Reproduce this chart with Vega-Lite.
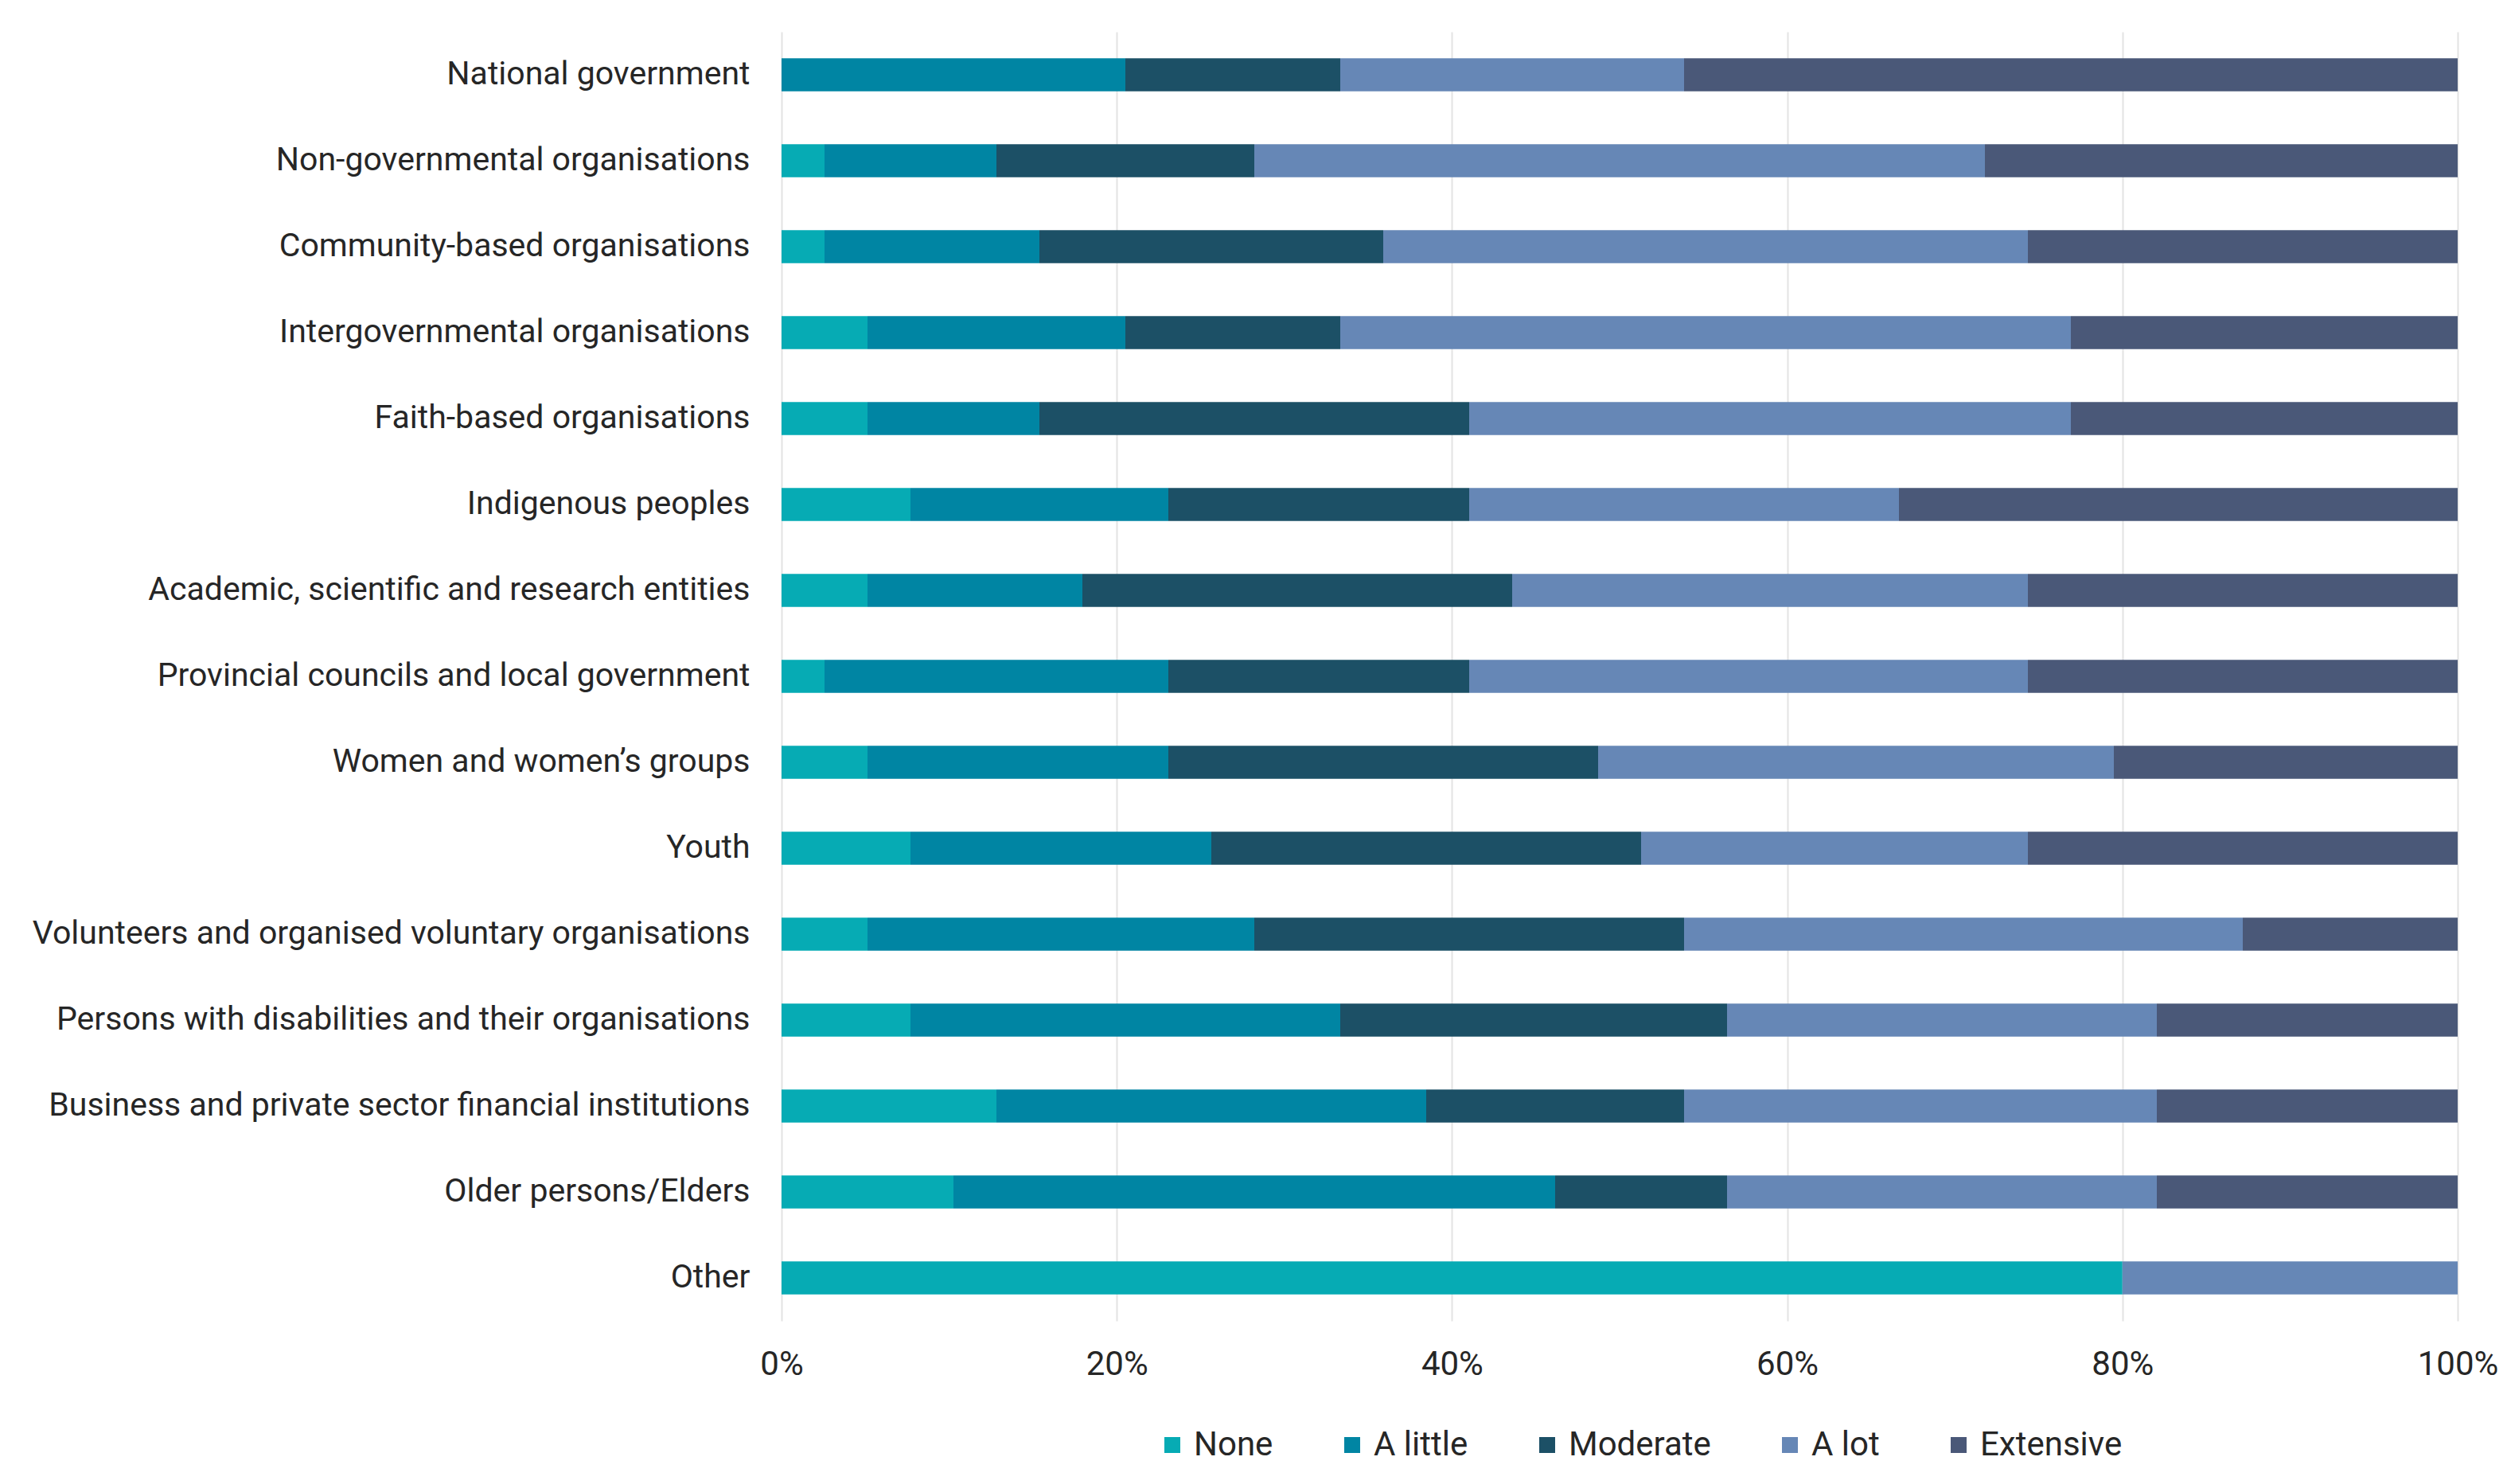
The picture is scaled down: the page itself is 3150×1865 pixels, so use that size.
{
  "$schema": "https://vega.github.io/schema/vega-lite/v6.json",
  "description": "Extent of engagement by stakeholder group, 100% stacked bars.",
  "width": 2106,
  "height": 1620,
  "autosize": {"type": "none"},
  "padding": {"left": 982, "top": 40, "right": 62, "bottom": 205},
  "background": "white",
  "data": {
    "values": [
      {"group": "National government", "level": "None", "rank": 1, "n": 0},
      {"group": "National government", "level": "A little", "rank": 2, "n": 8},
      {"group": "National government", "level": "Moderate", "rank": 3, "n": 5},
      {"group": "National government", "level": "A lot", "rank": 4, "n": 8},
      {"group": "National government", "level": "Extensive", "rank": 5, "n": 18},
      {"group": "Non-governmental organisations", "level": "None", "rank": 1, "n": 1},
      {"group": "Non-governmental organisations", "level": "A little", "rank": 2, "n": 4},
      {"group": "Non-governmental organisations", "level": "Moderate", "rank": 3, "n": 6},
      {"group": "Non-governmental organisations", "level": "A lot", "rank": 4, "n": 17},
      {"group": "Non-governmental organisations", "level": "Extensive", "rank": 5, "n": 11},
      {"group": "Community-based organisations", "level": "None", "rank": 1, "n": 1},
      {"group": "Community-based organisations", "level": "A little", "rank": 2, "n": 5},
      {"group": "Community-based organisations", "level": "Moderate", "rank": 3, "n": 8},
      {"group": "Community-based organisations", "level": "A lot", "rank": 4, "n": 15},
      {"group": "Community-based organisations", "level": "Extensive", "rank": 5, "n": 10},
      {"group": "Intergovernmental organisations", "level": "None", "rank": 1, "n": 2},
      {"group": "Intergovernmental organisations", "level": "A little", "rank": 2, "n": 6},
      {"group": "Intergovernmental organisations", "level": "Moderate", "rank": 3, "n": 5},
      {"group": "Intergovernmental organisations", "level": "A lot", "rank": 4, "n": 17},
      {"group": "Intergovernmental organisations", "level": "Extensive", "rank": 5, "n": 9},
      {"group": "Faith-based organisations", "level": "None", "rank": 1, "n": 2},
      {"group": "Faith-based organisations", "level": "A little", "rank": 2, "n": 4},
      {"group": "Faith-based organisations", "level": "Moderate", "rank": 3, "n": 10},
      {"group": "Faith-based organisations", "level": "A lot", "rank": 4, "n": 14},
      {"group": "Faith-based organisations", "level": "Extensive", "rank": 5, "n": 9},
      {"group": "Indigenous peoples", "level": "None", "rank": 1, "n": 3},
      {"group": "Indigenous peoples", "level": "A little", "rank": 2, "n": 6},
      {"group": "Indigenous peoples", "level": "Moderate", "rank": 3, "n": 7},
      {"group": "Indigenous peoples", "level": "A lot", "rank": 4, "n": 10},
      {"group": "Indigenous peoples", "level": "Extensive", "rank": 5, "n": 13},
      {"group": "Academic, scientific and research entities", "level": "None", "rank": 1, "n": 2},
      {"group": "Academic, scientific and research entities", "level": "A little", "rank": 2, "n": 5},
      {"group": "Academic, scientific and research entities", "level": "Moderate", "rank": 3, "n": 10},
      {"group": "Academic, scientific and research entities", "level": "A lot", "rank": 4, "n": 12},
      {"group": "Academic, scientific and research entities", "level": "Extensive", "rank": 5, "n": 10},
      {"group": "Provincial councils and local government", "level": "None", "rank": 1, "n": 1},
      {"group": "Provincial councils and local government", "level": "A little", "rank": 2, "n": 8},
      {"group": "Provincial councils and local government", "level": "Moderate", "rank": 3, "n": 7},
      {"group": "Provincial councils and local government", "level": "A lot", "rank": 4, "n": 13},
      {"group": "Provincial councils and local government", "level": "Extensive", "rank": 5, "n": 10},
      {"group": "Women and women’s groups", "level": "None", "rank": 1, "n": 2},
      {"group": "Women and women’s groups", "level": "A little", "rank": 2, "n": 7},
      {"group": "Women and women’s groups", "level": "Moderate", "rank": 3, "n": 10},
      {"group": "Women and women’s groups", "level": "A lot", "rank": 4, "n": 12},
      {"group": "Women and women’s groups", "level": "Extensive", "rank": 5, "n": 8},
      {"group": "Youth", "level": "None", "rank": 1, "n": 3},
      {"group": "Youth", "level": "A little", "rank": 2, "n": 7},
      {"group": "Youth", "level": "Moderate", "rank": 3, "n": 10},
      {"group": "Youth", "level": "A lot", "rank": 4, "n": 9},
      {"group": "Youth", "level": "Extensive", "rank": 5, "n": 10},
      {"group": "Volunteers and organised voluntary organisations", "level": "None", "rank": 1, "n": 2},
      {"group": "Volunteers and organised voluntary organisations", "level": "A little", "rank": 2, "n": 9},
      {"group": "Volunteers and organised voluntary organisations", "level": "Moderate", "rank": 3, "n": 10},
      {"group": "Volunteers and organised voluntary organisations", "level": "A lot", "rank": 4, "n": 13},
      {"group": "Volunteers and organised voluntary organisations", "level": "Extensive", "rank": 5, "n": 5},
      {"group": "Persons with disabilities and their organisations", "level": "None", "rank": 1, "n": 3},
      {"group": "Persons with disabilities and their organisations", "level": "A little", "rank": 2, "n": 10},
      {"group": "Persons with disabilities and their organisations", "level": "Moderate", "rank": 3, "n": 9},
      {"group": "Persons with disabilities and their organisations", "level": "A lot", "rank": 4, "n": 10},
      {"group": "Persons with disabilities and their organisations", "level": "Extensive", "rank": 5, "n": 7},
      {"group": "Business and private sector financial institutions", "level": "None", "rank": 1, "n": 5},
      {"group": "Business and private sector financial institutions", "level": "A little", "rank": 2, "n": 10},
      {"group": "Business and private sector financial institutions", "level": "Moderate", "rank": 3, "n": 6},
      {"group": "Business and private sector financial institutions", "level": "A lot", "rank": 4, "n": 11},
      {"group": "Business and private sector financial institutions", "level": "Extensive", "rank": 5, "n": 7},
      {"group": "Older persons/Elders", "level": "None", "rank": 1, "n": 4},
      {"group": "Older persons/Elders", "level": "A little", "rank": 2, "n": 14},
      {"group": "Older persons/Elders", "level": "Moderate", "rank": 3, "n": 4},
      {"group": "Older persons/Elders", "level": "A lot", "rank": 4, "n": 10},
      {"group": "Older persons/Elders", "level": "Extensive", "rank": 5, "n": 7},
      {"group": "Other", "level": "None", "rank": 1, "n": 4},
      {"group": "Other", "level": "A lot", "rank": 4, "n": 1}
    ]
  },
  "mark": {"type": "bar"},
  "encoding": {
    "y": {
      "field": "group",
      "type": "nominal",
      "sort": null,
      "title": null,
      "scale": {"paddingInner": 0.615, "paddingOuter": 0.3075},
      "axis": {
        "domain": false,
        "ticks": false,
        "labelPadding": 40,
        "labelFontSize": 41,
        "labelFont": "Roboto",
        "labelColor": "#262626",
        "labelLimit": 2000
      }
    },
    "x": {
      "field": "n",
      "type": "quantitative",
      "stack": "normalize",
      "title": null,
      "scale": {"domain": [0, 1]},
      "axis": {
        "values": [0, 0.2, 0.4, 0.6, 0.8, 1],
        "format": ".0%",
        "domain": false,
        "ticks": false,
        "labelFlush": false,
        "labelPadding": 34,
        "labelFontSize": 42,
        "labelFont": "Roboto",
        "labelColor": "#262626",
        "grid": true,
        "gridColor": "#e3e3e3",
        "gridWidth": 2
      }
    },
    "order": {"field": "rank", "type": "quantitative", "sort": "ascending"},
    "color": {
      "field": "level",
      "type": "nominal",
      "sort": ["None", "A little", "Moderate", "A lot", "Extensive"],
      "title": null,
      "scale": {
        "domain": ["None", "A little", "Moderate", "A lot", "Extensive"],
        "range": ["#06abb4", "#0085a3", "#1c5066", "#6687b6", "#4a5878"]
      },
      "legend": {
        "orient": "none",
        "direction": "horizontal",
        "legendX": 470,
        "legendY": 1755,
        "symbolType": "square",
        "symbolSize": 400,
        "symbolStrokeWidth": 0,
        "labelFontSize": 42,
        "labelFont": "Roboto",
        "labelColor": "#262626",
        "labelLimit": 1000,
        "labelOffset": 6,
        "columnPadding": 78,
        "padding": 0
      }
    }
  },
  "config": {
    "view": {"stroke": null}
  }
}
